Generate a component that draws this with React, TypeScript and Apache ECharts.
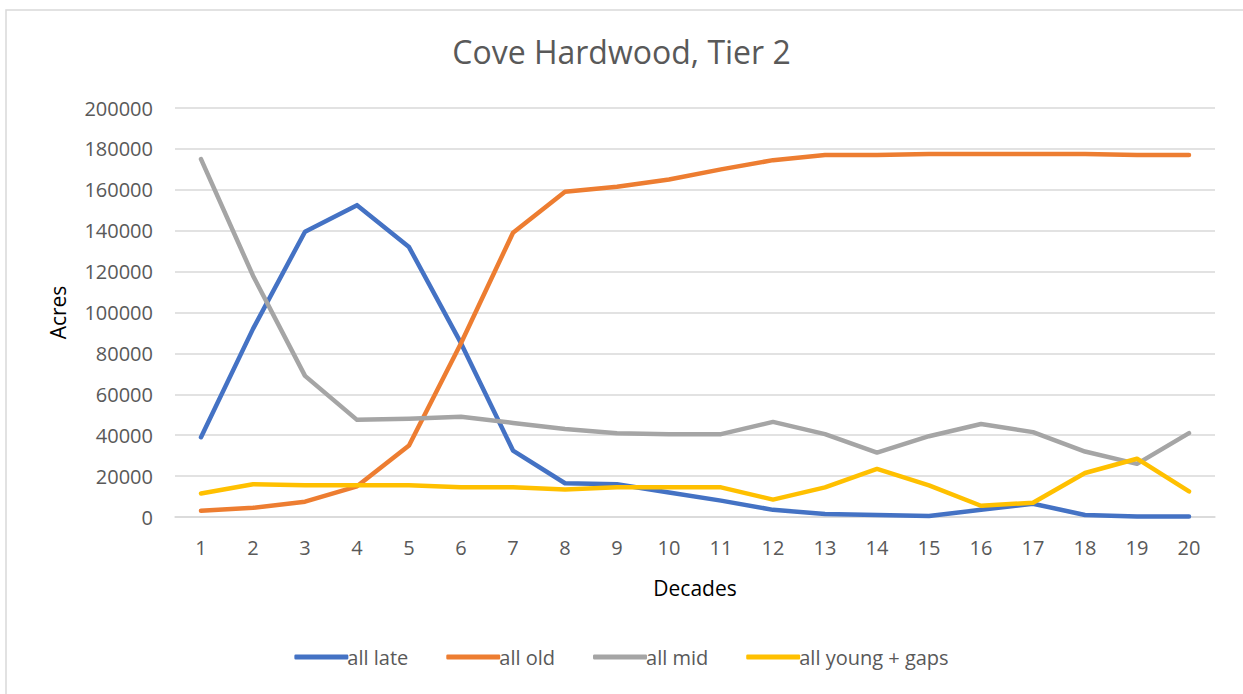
import React, { useEffect, useRef } from "react";
import * as echarts from "echarts";

const decades = ["1","2","3","4","5","6","7","8","9","10","11","12","13","14","15","16","17","18","19","20"];
const allLate = [39000, 92000, 139500, 152500, 132000, 85000, 32500, 16500, 16000, 12000, 8000, 3500, 1500, 1000, 500, 3500, 6500, 1000, 200, 300];
const allOld = [3000, 4500, 7500, 15000, 35000, 85000, 139000, 159000, 161500, 165000, 170000, 174500, 177000, 177000, 177500, 177500, 177500, 177500, 177000, 177000];
const allMid = [175000, 118000, 69000, 47500, 48000, 49000, 46000, 43000, 41000, 40500, 40500, 46500, 40500, 31500, 39500, 45500, 41500, 32000, 26000, 41000];
const allYoung = [11500, 16000, 15500, 15500, 15500, 14500, 14500, 13500, 14500, 14500, 14500, 8500, 14500, 23500, 15500, 5500, 7000, 21500, 28500, 12500];

const seriesNames = ["all late", "all old", "all mid", "all young + gaps"];
const colors = ["#4472C4", "#ED7D31", "#A5A5A5", "#FFC000"];
const FONT = "'Open Sans', sans-serif";

export default function App() {
  const ref = useRef<HTMLDivElement>(null);
  useEffect(() => {
    if (!ref.current) return;
    const chart = echarts.init(ref.current, null, { renderer: "svg" });
    const data = [allLate, allOld, allMid, allYoung];
    chart.setOption({
      animation: false,
      backgroundColor: "#ffffff",
      title: {
        text: "Cove Hardwood, Tier 2",
        left: "center",
        top: 30,
        textStyle: { fontFamily: FONT, fontSize: 32, fontWeight: "normal", color: "#595959" },
      },
      graphic: [
        {
          type: "rect",
          shape: { x: 6, y: 10, width: 1260, height: 700 },
          style: { fill: "none", stroke: "#d9d9d9", lineWidth: 1.5 },
          silent: true,
        },
      ],
      legend: {
        bottom: 22,
        left: "center",
        itemWidth: 54,
        itemHeight: 5,
        itemGap: 38,
        icon: "roundRect",
        textStyle: { fontFamily: FONT, fontSize: 20, color: "#595959", padding: [0, 0, 0, -6] },
        data: seriesNames,
      },
      grid: { left: 175, right: 28, top: 108, bottom: 177, containLabel: false },
      xAxis: {
        type: "category",
        data: decades,
        boundaryGap: true,
        name: "Decades",
        nameLocation: "middle",
        nameGap: 60,
        nameTextStyle: { fontFamily: FONT, fontSize: 21, color: "#000000" },
        axisLine: { lineStyle: { color: "#d9d9d9", width: 1.5 } },
        axisTick: { show: false },
        axisLabel: { fontFamily: FONT, fontSize: 20, color: "#595959", margin: 20 },
      },
      yAxis: {
        type: "value",
        min: 0,
        max: 200000,
        interval: 20000,
        name: "Acres",
        nameLocation: "middle",
        nameGap: 107,
        nameTextStyle: { fontFamily: FONT, fontSize: 21, color: "#000000" },
        axisLine: { show: false },
        axisTick: { show: false },
        splitLine: { lineStyle: { color: "#d9d9d9", width: 1.5 } },
        axisLabel: {
          fontFamily: FONT,
          fontSize: 20,
          color: "#595959",
          margin: 22,
          formatter: (v: number) => String(v),
        },
      },
      series: seriesNames.map((name, i) => ({
        name,
        type: "line",
        data: data[i],
        symbol: "none",
        lineStyle: { color: colors[i], width: 4.5, cap: "round", join: "round" },
        itemStyle: { color: colors[i] },
      })),
    });
    return () => chart.dispose();
  }, []);
  return (
    <div
      ref={ref}
      style={{ position: "fixed", left: 0, top: 0, width: 1243, height: 694 }}
    />
  );
}
